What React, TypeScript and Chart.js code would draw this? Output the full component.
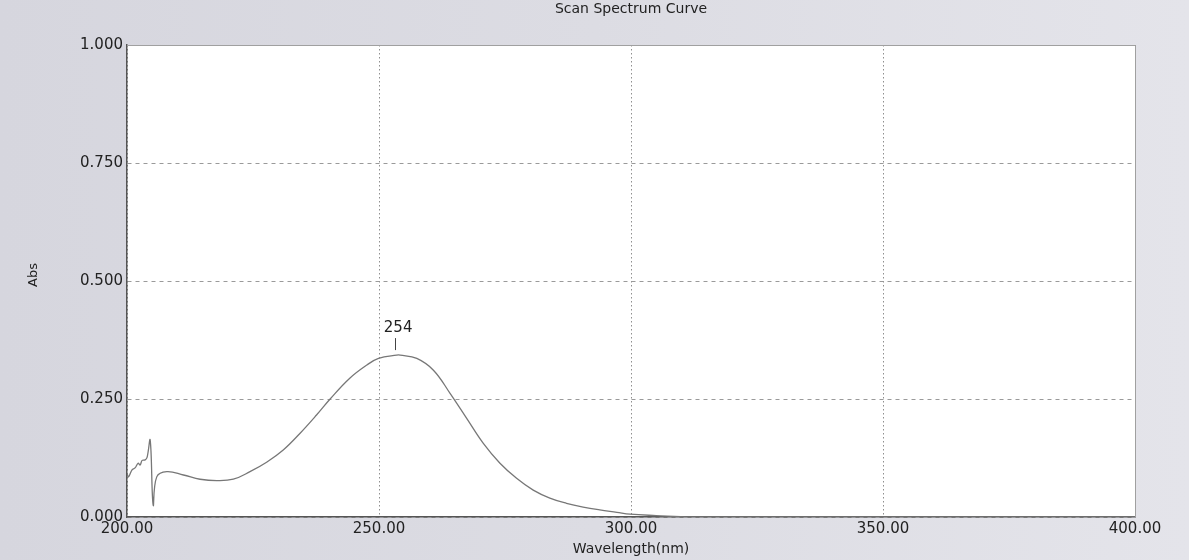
import React, { useEffect, useRef } from "react";
import { Chart, registerables } from "chart.js";

Chart.register(...registerables);

// Data
const wavelengths = [
  200, 200.3, 201, 201.6, 202.2, 202.6, 203, 203.6, 204, 204.6, 205.2, 205.9, 207.9, 211.2,
  214.5, 217.8, 221.1, 224.4, 227.7, 231.0, 234.3, 237.6, 240.3, 244.2, 247.6, 249.9, 253.5,
  254.2, 257.5, 260.8, 264.1, 267.4, 270.7, 274.0, 277.3, 280.6, 283.9, 287.2, 290.5, 293.8,
  297.2, 299.8, 305, 312, 350, 400,
];
const absorbance = [
  0.093, 0.085, 0.1, 0.104, 0.114, 0.11, 0.12, 0.121, 0.127, 0.163, 0.025, 0.085, 0.096, 0.089,
  0.08, 0.077, 0.08, 0.096, 0.116, 0.142, 0.177, 0.216, 0.25, 0.294, 0.322, 0.336, 0.343,
  0.343, 0.336, 0.311, 0.262, 0.209, 0.156, 0.114, 0.082, 0.057, 0.04, 0.029, 0.021, 0.015,
  0.01, 0.006, 0.003, 0.0, 0.0, 0.0,
];
const xTickValues = [200, 250, 300, 350, 400];
const yTickValues = [0, 0.25, 0.5, 0.75, 1.0];
const titleText = "Scan Spectrum Curve";
const xTitleText = "Wavelength(nm)";
const yTitleText = "Abs";
const peakWavelength = 253.2;
const peakAbs = 0.343;
const peakLabel = "254";

const FONT = "'DejaVu Sans', Verdana, sans-serif";

const decorPlugin = {
  id: "decor",
  beforeDraw(chart: any) {
    const { ctx, chartArea, width, height } = chart;
    ctx.save();
    const g = ctx.createLinearGradient(0, 0, width, 0);
    g.addColorStop(0, "#d6d6de");
    g.addColorStop(0.5, "#dcdce3");
    g.addColorStop(1, "#e4e4ea");
    ctx.fillStyle = g;
    ctx.fillRect(0, 0, width, height);
    ctx.fillStyle = "#ffffff";
    ctx.fillRect(chartArea.left, chartArea.top, chartArea.right - chartArea.left, chartArea.bottom - chartArea.top);
    ctx.restore();
  },
  afterDraw(chart: any) {
    const { ctx, chartArea } = chart;
    const xs = chart.scales.x;
    const ys = chart.scales.y;
    ctx.save();
    // top & right border
    ctx.strokeStyle = "#a0a0a0";
    ctx.lineWidth = 1;
    ctx.beginPath();
    ctx.moveTo(chartArea.left, chartArea.top + 0.5);
    ctx.lineTo(chartArea.right + 0.5, chartArea.top + 0.5);
    ctx.lineTo(chartArea.right + 0.5, chartArea.bottom);
    ctx.stroke();

    const cx = (chartArea.left + chartArea.right) / 2;
    ctx.fillStyle = "#222";
    ctx.textAlign = "center";
    ctx.textBaseline = "middle";
    ctx.font = `14px ${FONT}`;
    ctx.fillText(titleText, cx, 9);
    ctx.font = `14px ${FONT}`;
    ctx.fillText(xTitleText, cx, 549);
    ctx.save();
    ctx.translate(34, (chartArea.top + chartArea.bottom) / 2 - 6);
    ctx.rotate(-Math.PI / 2);
    ctx.font = `13px ${FONT}`;
    ctx.fillText(yTitleText, 0, 0);
    ctx.restore();

    // peak marker
    const px = xs.getPixelForValue(peakWavelength);
    const py = ys.getPixelForValue(peakAbs);
    ctx.strokeStyle = "#444";
    ctx.lineWidth = 1;
    ctx.beginPath();
    ctx.moveTo(Math.round(px) + 0.5, py - 5);
    ctx.lineTo(Math.round(px) + 0.5, py - 17);
    ctx.stroke();
    ctx.font = `15px ${FONT}`;
    ctx.fillStyle = "#222";
    ctx.fillText(peakLabel, px + 3, py - 27);
    ctx.restore();
  },
};

export default function App() {
  const ref = useRef<HTMLCanvasElement | null>(null);
  useEffect(() => {
    if (!ref.current) return;
    const chart = new Chart(ref.current, {
      type: "line",
      data: {
        datasets: [
          {
            data: wavelengths.map((w, i) => ({ x: w, y: absorbance[i] })),
            borderColor: "#777777",
            borderWidth: 1.3,
            pointRadius: 0,
            tension: 0.4,
            fill: false,
          },
        ],
      },
      options: {
        responsive: false,
        animation: false,
        devicePixelRatio: 1,
        layout: { padding: { top: 45, right: 54, left: 0, bottom: 0 } },
        plugins: { legend: { display: false }, tooltip: { enabled: false }, title: { display: false } },
        scales: {
          x: {
            type: "linear",
            min: 200,
            max: 400,
            afterFit: (s: any) => {
              s.height = 43;
            },
            afterBuildTicks: (s: any) => {
              s.ticks = xTickValues.map((v) => ({ value: v }));
            },
            ticks: {
              callback: (v: any) => Number(v).toFixed(2),
              color: "#222",
              font: { family: FONT, size: 15 },
              padding: 3,
              maxRotation: 0,
              autoSkip: false,
            },
            grid: { color: "#8f8f8f", lineWidth: 1, drawTicks: false },
            border: { display: true, color: "#555", width: 1.5, dash: [1.5, 2.5] },
          },
          y: {
            type: "linear",
            min: 0,
            max: 1,
            afterFit: (s: any) => {
              s.width = 127;
            },
            afterBuildTicks: (s: any) => {
              s.ticks = yTickValues.map((v) => ({ value: v }));
            },
            ticks: {
              callback: (v: any) => Number(v).toFixed(3),
              color: "#222",
              font: { family: FONT, size: 15 },
              padding: 4,
              autoSkip: false,
            },
            grid: { color: "#9a9a9a", lineWidth: 1, drawTicks: false },
            border: { display: true, color: "#555", width: 1.5, dash: [4, 4] },
          },
        },
      },
      plugins: [decorPlugin],
    } as any);
    return () => chart.destroy();
  }, []);
  return (
    <div style={{ position: "fixed", left: 0, top: 0, width: 1189, height: 560 }}>
      <canvas ref={ref} width={1189} height={560} style={{ display: "block" }} />
    </div>
  );
}
